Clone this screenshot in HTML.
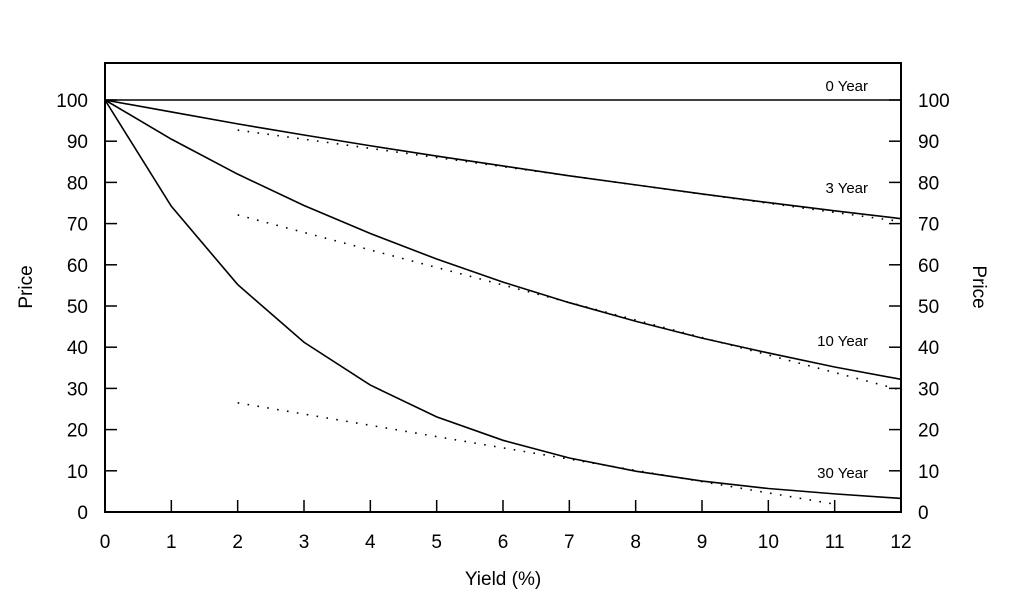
<!DOCTYPE html>
<html><head><meta charset="utf-8"><style>
html,body{margin:0;padding:0;background:#fff;}
svg{display:block;font-family:"Liberation Sans",sans-serif;}
</style></head><body>
<svg id="chart" width="1009" height="597"></svg>
<script>
const yields = [0,1,2,3,4,5,6,7,8,9,10,11,12];
const price0 = [100,100,100,100,100,100,100,100,100,100,100,100,100];
const price3 = [100,97.1,94.2,91.5,88.9,86.4,84.0,81.6,79.4,77.2,75.1,73.1,71.2];
const price10 = [100,90.5,82.0,74.4,67.6,61.4,55.8,50.8,46.3,42.2,38.6,35.2,32.2];
const price30 = [100,74.2,55.2,41.2,30.8,23.1,17.4,13.1,9.9,7.5,5.7,4.4,3.3];
const approx3X = [2,12], approx3Y = [92.7,70.5];
const approx10X = [2,12], approx10Y = [72.1,29.6];
const approx30X = [2,11], approx30Y = [26.5,1.9];
const xTicks = [0,1,2,3,4,5,6,7,8,9,10,11,12];
const yTicks = [0,10,20,30,40,50,60,70,80,90,100];
const curveLabels = ["0 Year","3 Year","10 Year","30 Year"];
const labelY = [103.4,78.6,41.5,9.5];

const NS="http://www.w3.org/2000/svg";
const svg=document.getElementById('chart');
const L=105,R=901,T=63,B=512;
const sx=v=>L+(v-0)/12*(R-L);
const sy=v=>B-v/100*(B-100);
function mk(tag,attrs,parent){const e=document.createElementNS(NS,tag);for(const k in attrs)e.setAttribute(k,attrs[k]);(parent||svg).appendChild(e);return e;}

const frame=mk('rect',{x:L,y:T,width:R-L,height:B-T,fill:'none',stroke:'#000','stroke-width':2});



yTicks.forEach(v=>{
  const y=sy(v);
  const t1=mk('line',{x1:L,x2:L+12,y1:y,y2:y,stroke:'#000','stroke-width':1.5});
  
  
  const t2=mk('line',{x1:R-12,x2:R,y1:y,y2:y,stroke:'#000','stroke-width':1.5});
  
  
  const a=mk('text',{x:88,y:y+7,'text-anchor':'end','font-size':19});a.textContent=v;
  
  
  const b=mk('text',{x:918,y:y+7,'text-anchor':'start','font-size':19});b.textContent=v;
  
  
});
xTicks.forEach(v=>{
  const x=sx(v);
  const t=mk('line',{x1:x,x2:x,y1:B,y2:B-12,stroke:'#000','stroke-width':1.5});
  
  
  const l=mk('text',{x:x,y:548,'text-anchor':'middle','font-size':19});l.textContent=v;
  
  
});

function curve(ys,name){
  const d=yields.map((x,i)=>(i?'L':'M')+sx(x)+','+sy(ys[i])).join(' ');
  const p=mk('path',{d:d,fill:'none',stroke:'#000','stroke-width':1.6});
  
  
}
curve(price0,'curve-0-year');curve(price3,'curve-3-year');curve(price10,'curve-10-year');curve(price30,'curve-30-year');

function dotted(xs,ys,name){
  const p=mk('line',{x1:sx(xs[0]),y1:sy(ys[0]),x2:sx(xs[1]),y2:sy(ys[1]),stroke:'#000','stroke-width':1.6,'stroke-dasharray':'1.6 8.4'});
  
  
}
dotted(approx3X,approx3Y,'approx-3-year');dotted(approx10X,approx10Y,'approx-10-year');dotted(approx30X,approx30Y,'approx-30-year');

curveLabels.forEach((s,i)=>{
  const t=mk('text',{x:868,y:sy(labelY[i])+5,'text-anchor':'end','font-size':15});t.textContent=s;
  
  
});

const xt=mk('text',{x:503,y:585,'text-anchor':'middle','font-size':19});xt.textContent='Yield (%)';


const yl=mk('text',{x:0,y:0,'text-anchor':'middle','font-size':19,transform:'translate(32,287) rotate(-90)'});yl.textContent='Price';


const yr=mk('text',{x:0,y:0,'text-anchor':'middle','font-size':19,transform:'translate(973,287) rotate(90)'});yr.textContent='Price';


</script>
</body></html>
